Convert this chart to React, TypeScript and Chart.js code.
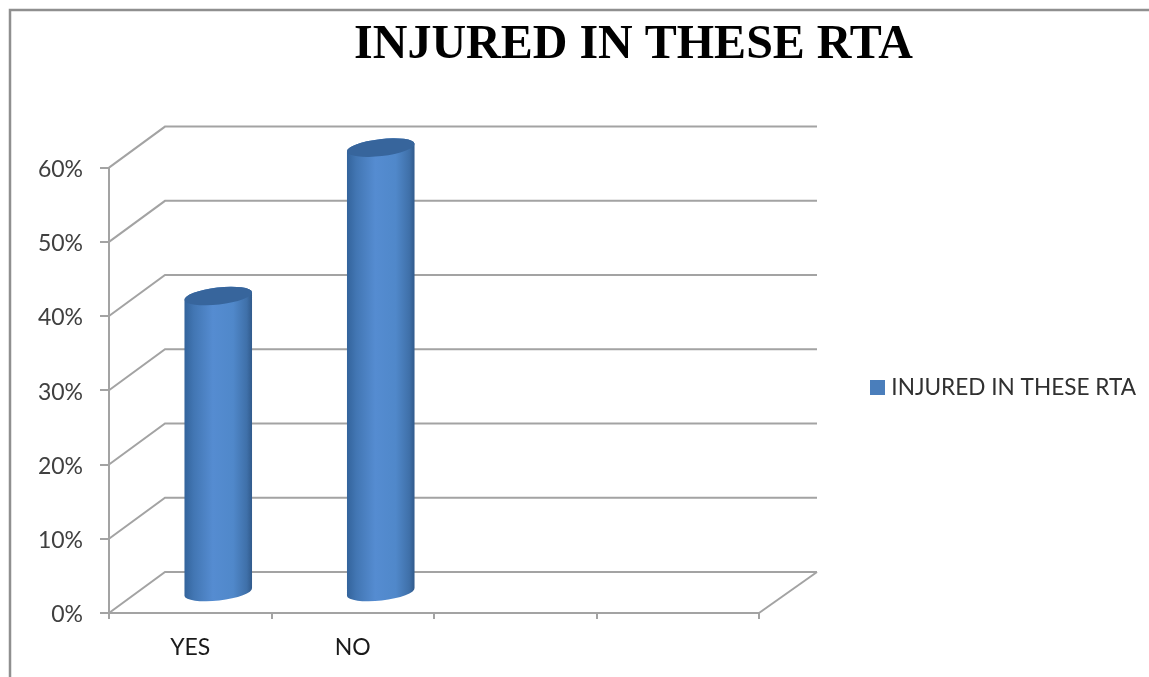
import React, { useEffect, useRef } from "react";
import { Chart, registerables } from "chart.js";

Chart.register(...registerables);

const chartTitle = "INJURED IN THESE RTA";
const categories = ["YES", "NO", "", ""];
const seriesValues = [40, 60];
const yTicks = { min: 0, max: 60, step: 10 };

const GREY = "#a3a3a3";
const DEPTH = { x: 56, y: -41 };
const BODY_SHIFT = { x: 28, y: -20 };
const TILT = -0.115;
const RY = 8.5;

const walls = {
  id: "walls",
  beforeDraw(chart: any) {
    const { ctx, width, height } = chart;
    ctx.save();
    ctx.fillStyle = "#fff";
    ctx.fillRect(0, 0, width, height);
    ctx.strokeStyle = "#8f8f8f";
    ctx.lineWidth = 2.5;
    ctx.beginPath();
    ctx.moveTo(10, height);
    ctx.lineTo(10, 10);
    ctx.lineTo(width, 10);
    ctx.stroke();
    ctx.restore();
  },
  beforeDatasetsDraw(chart: any) {
    const { ctx, chartArea, scales } = chart;
    ctx.save();
    ctx.strokeStyle = GREY;
    ctx.lineWidth = 2;
    scales.y.ticks.forEach((t: any) => {
      const y = scales.y.getPixelForValue(t.value);
      ctx.beginPath();
      ctx.moveTo(chartArea.left, y);
      ctx.lineTo(chartArea.left + DEPTH.x, y + DEPTH.y);
      ctx.lineTo(chartArea.right + DEPTH.x + 2, y + DEPTH.y);
      ctx.stroke();
    });
    ctx.beginPath();
    ctx.moveTo(chartArea.right, chartArea.bottom);
    ctx.lineTo(chartArea.right + DEPTH.x + 2, chartArea.bottom + DEPTH.y);
    ctx.stroke();
    ctx.restore();
  },
  afterLayout(chart: any) {
    const title = chart.titleBlock;
    const shift = 633.5 - (title.left + title.right) / 2;
    title.left += shift;
    title.right += shift;
    const legend = chart.legend;
    legend.left = 865;
    legend.right = 1149;
    legend.top += 49;
    legend.bottom += 49;
  },
};

const cylinders = {
  id: "cylinders",
  beforeDatasetDraw(chart: any, args: any) {
    const { ctx } = chart;
    args.meta.data.forEach((bar: any) => {
      const p = bar.getProps(["x", "y", "base", "width"], true);
      const cx = p.x + BODY_SHIFT.x;
      const top = p.y + BODY_SHIFT.y;
      const bottom = p.base + BODY_SHIFT.y;
      const rx = p.width / 2;
      const g = ctx.createLinearGradient(cx - rx, 0, cx + rx, 0);
      g.addColorStop(0, "#33639b");
      g.addColorStop(0.14, "#4276b3");
      g.addColorStop(0.42, "#558cd1");
      g.addColorStop(0.72, "#5088ca");
      g.addColorStop(0.92, "#3f70a9");
      g.addColorStop(1, "#30598a");
      ctx.save();
      ctx.beginPath();
      ctx.ellipse(cx, top, rx, RY, TILT, Math.PI, Math.PI * 2);
      ctx.ellipse(cx, bottom, rx, RY, TILT, 0, Math.PI);
      ctx.closePath();
      ctx.fillStyle = g;
      ctx.fill();
      ctx.beginPath();
      ctx.ellipse(cx, top, rx, RY, TILT, 0, Math.PI * 2);
      ctx.fillStyle = "#37659c";
      ctx.fill();
      ctx.restore();
    });
    return false;
  },
};

export default function App() {
  const ref = useRef<HTMLCanvasElement>(null);
  useEffect(() => {
    const chart = new Chart(ref.current as any, {
      type: "bar",
      data: {
        labels: categories,
        datasets: [
          {
            label: chartTitle,
            data: seriesValues,
            backgroundColor: "#4a7ebb",
            borderColor: "#4a7ebb",
            borderWidth: 10,
            barThickness: 68,
          },
        ],
      },
      plugins: [walls, cylinders],
      options: {
        responsive: false,
        animation: false,
        layout: { padding: { left: 9, right: 140, top: 0, bottom: 0 } },
        plugins: {
          title: {
            display: true,
            text: chartTitle,
            color: "#000",
            font: { family: "'Liberation Serif'", size: 48, weight: "bold" },
            padding: { top: 17, bottom: 93 },
          },
          legend: {
            display: true,
            position: "right",
            labels: {
              boxWidth: 5,
              boxHeight: 5,
              color: "#303030",
              padding: 10,
              font: { family: "Lato", size: 22.6 },
            },
          },
          tooltip: { enabled: false },
        },
        scales: {
          x: {
            grid: { drawOnChartArea: false, color: GREY, lineWidth: 2, tickLength: 6, offset: true },
            border: { color: GREY, width: 2 },
            ticks: { color: "#1a1a1a", font: { family: "Lato", size: 23 }, padding: 15, autoSkip: false, maxRotation: 0 },
            afterFit(s: any) {
              s.height = 64;
            },
          },
          y: {
            min: yTicks.min,
            max: yTicks.max,
            grid: { drawOnChartArea: false, color: GREY, lineWidth: 2, tickLength: 9 },
            border: { color: GREY, width: 2 },
            ticks: {
              stepSize: yTicks.step,
              color: "#404040",
              font: { family: "Lato", size: 23 },
              padding: 17,
              labelOffset: 2,
              callback: (v: any) => v + "%",
            },
            afterFit(s: any) {
              s.width = 100;
            },
          },
        },
      },
    } as any);
    return () => chart.destroy();
  }, []);
  return (
    <div style={{ position: "fixed", left: 0, top: 0, width: 1149, height: 677, background: "#fff" }}>
      <canvas ref={ref} width={1149} height={677} style={{ display: "block", filter: "blur(0.4px)" }} />
    </div>
  );
}
